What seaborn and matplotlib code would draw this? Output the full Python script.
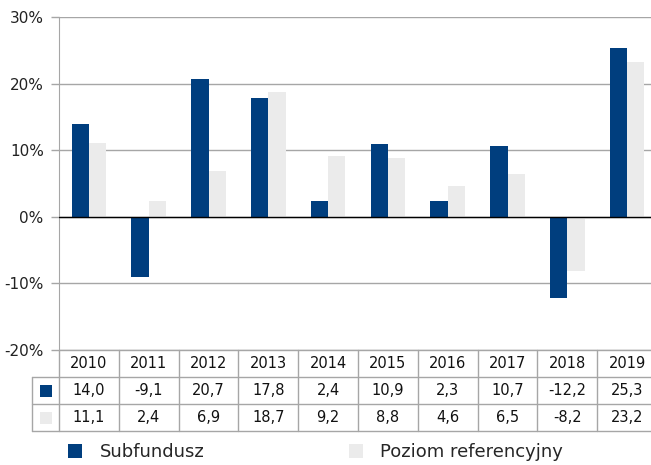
import pandas as pd
import numpy as np
import matplotlib.pyplot as plt
import seaborn as sns
from matplotlib.transforms import blended_transform_factory

sns.set_style("white")
plt.rcParams['font.family'] = ['DejaVu Sans']

# dane
lata = ['2010', '2011', '2012', '2013', '2014', '2015', '2016', '2017', '2018', '2019']
subfundusz = [14.0, -9.1, 20.7, 17.8, 2.4, 10.9, 2.3, 10.7, -12.2, 25.3]
poziom_ref = [11.1, 2.4, 6.9, 18.7, 9.2, 8.8, 4.6, 6.5, -8.2, 23.2]
serie = ['Subfundusz', 'Poziom referencyjny']
kolory = ['#003E7E', '#EBEBEB']

df = pd.DataFrame({
    'rok': lata * 2,
    'wartosc': subfundusz + poziom_ref,
    'seria': [serie[0]] * len(lata) + [serie[1]] * len(lata),
})

W, H = 651, 465
# obszar wykresu wychodzi lekko poza prawą krawędź (jak w oryginale)
fig = plt.figure(figsize=(W / 100, H / 100), dpi=100)
ax = fig.add_axes([59 / W, 1 - 350 / H, 598 / W, (350 - 17) / H])

sns.barplot(data=df, x='rok', y='wartosc', hue='seria', palette=kolory,
            width=0.58, saturation=1, linewidth=0, ax=ax, zorder=3)
ax.set_xlim(-0.5, len(lata) - 0.5)
ax.set_ylim(-20, 30)
ax.set_yticks(range(-20, 31, 10))
ax.set_yticklabels([f'{v}%' for v in range(-20, 31, 10)], fontsize=11, color='#222222')
ax.set_xticks([])
ax.set_xlabel('')
ax.set_ylabel('')
ax.yaxis.grid(True, color='#A6A6A6', linewidth=1, zorder=0)
ax.tick_params(axis='y', length=6, color='#A6A6A6', width=1, pad=5, left=True)
ax.axhline(0, color='black', linewidth=1, zorder=4)
for s in ['top', 'right', 'bottom']:
    ax.spines[s].set_visible(False)
ax.spines['left'].set_color('#A6A6A6')

# tabela z danymi pod wykresem
trans = blended_transform_factory(ax.transData, ax.transAxes)
ax_h = 350 - 17
row = 27 / ax_h
kol_w = 598 / len(lata)
x_key = -0.5 - 27 / kol_w
x_end = len(lata) - 0.5
lc = '#A6A6A6'
kw = dict(transform=trans, clip_on=False, color=lc, linewidth=1)

ax.plot([-0.5, x_end], [0, 0], **kw)
for r in (1, 2, 3):
    ax.plot([x_key, x_end], [-r * row] * 2, **kw)
ax.plot([x_key, x_key], [-row, -3 * row], **kw)
for i in range(len(lata) + 1):
    ax.plot([i - 0.5, i - 0.5], [0, -3 * row], **kw)

tk = dict(transform=trans, ha='center', va='center', fontsize=10.5, color='#111111', clip_on=False)
for i, rok in enumerate(lata):
    ax.text(i, -0.5 * row, rok, **tk)
    ax.text(i, -1.5 * row, f'{subfundusz[i]:.1f}'.replace('.', ','), **tk)
    ax.text(i, -2.5 * row, f'{poziom_ref[i]:.1f}'.replace('.', ','), **tk)
for j, k in enumerate(kolory):
    ax.scatter([(x_key - 0.5) / 2], [-(1.5 + j) * row], marker='s', s=80,
               color=k, linewidths=0, transform=trans, clip_on=False)

# legenda
uchwyty, etykiety = ax.get_legend_handles_labels()
ax.get_legend().remove()
fig.legend(uchwyty, etykiety, loc='center left', bbox_to_anchor=(68 / W, 1 - 452 / H),
           ncol=2, frameon=False, fontsize=13, handlelength=0.8, handleheight=0.8,
           handletextpad=0.95, columnspacing=8.0, borderpad=0, borderaxespad=0)

plt.savefig('out.png', dpi=100)
